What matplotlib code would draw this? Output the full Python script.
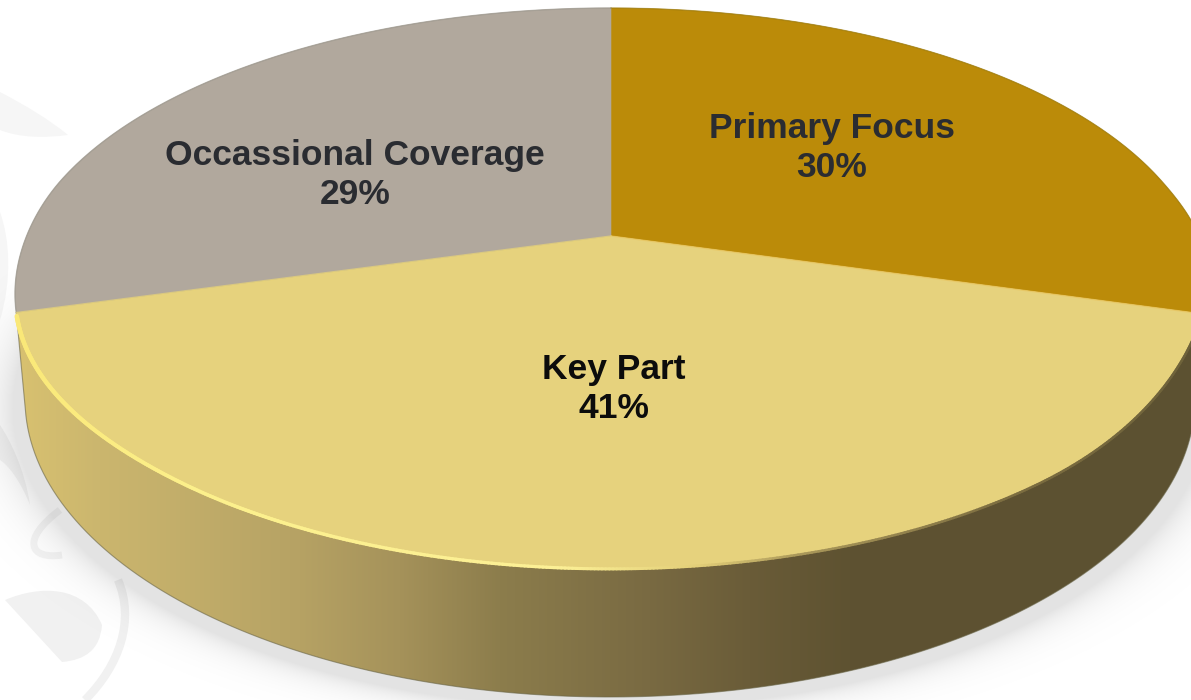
import numpy as np
import matplotlib
matplotlib.use("Agg")
import matplotlib.pyplot as plt
from matplotlib.patches import Polygon, PathPatch
from matplotlib.path import Path
from matplotlib.collections import LineCollection

plt.rcParams['font.family'] = ['Liberation Sans', 'DejaVu Sans']

# Share of coverage, clockwise from twelve o'clock
categories = ["Primary Focus", "Key Part", "Occassional Coverage"]
shares = [30, 41, 29]
slice_colors = ["#BB8B09", "#E6D27D", "#B1A89D"]
label_colors = ["#2A2C31", "#0C0C0C", "#2A2C31"]
label_xy = [(832, 148), (614, 389), (355, 175)]

W, H = 1191, 700
fig = plt.figure(figsize=(W / 100, H / 100), dpi=100)
ax = fig.add_axes([0, 0, 1, 1])

# Tilted disk: a unit circle seen in perspective, apex at (APEX_X, APEX_Y)
APEX_X, APEX_Y = 611.0, 236.0
K = 0.187
SCALE_Y = 228.0 * (1 + K)
SCALE_X = 596.0 * np.sqrt(1 - K ** 2)


def rim(theta):
    """Pixel position of the disk rim at a clockwise angle from the top."""
    u, v = np.sin(theta), np.cos(theta)
    d = 1 + K * v
    # Small warp near the side joins, where the disk is slightly skewed
    bump = np.clip(1 - ((v + 0.28) / 0.5) ** 2, 0, None) ** 2
    warp = np.where(u > 0, -11.0, 6.0) * bump
    return APEX_X + SCALE_X * u / d, APEX_Y - SCALE_Y * v / d + warp


# Underside outline of the pie body
BASE_X, BASE_Y, BASE_A, BASE_B = 610.0, 399.0, 585.0, 298.0


def base(t):
    return BASE_X + BASE_A * np.cos(t), BASE_Y + BASE_B * np.sin(t)


# Soft drop shadow beneath the body
yy, xx = np.mgrid[0:H, 0:W]
r = np.sqrt(((xx - 610) / 598.0) ** 2 + ((yy - 408) / 300.0) ** 2)
shadow = 28 * np.exp(-np.clip(r - 1, 0, None) / 0.04) * np.clip((yy - 230) / 90, 0, 1)

# Faint floral watermark along the left margin
MV, C4, CL = Path.MOVETO, Path.CURVE4, Path.CLOSEPOLY
ornaments = [
    [(0, 92), (25, 105), (50, 120), (68, 135), (45, 138), (20, 138), (0, 130), (0, 92)],
    [(5, 600), (40, 585), (85, 585), (102, 625), (100, 650), (85, 660), (62, 662), (5, 600)],
    [(0, 212), (10, 240), (12, 280), (0, 320), (0, 300), (0, 250), (0, 230), (0, 212)],
    [(0, 425), (10, 440), (25, 470), (30, 505), (20, 480), (8, 465), (0, 460), (0, 425)],
]
ornament_fill = ["#F6F6F6", "#F1F1F1", "#F6F6F6", "#F4F4F4"]
for pts, fill in zip(ornaments, ornament_fill):
    codes = [MV, C4, C4, C4, C4, C4, C4, CL]
    ax.add_patch(PathPatch(Path(pts, codes), fc=fill, ec="none", zorder=1))
curl = [(118, 580), (135, 620), (120, 665), (85, 700)]
ax.add_patch(PathPatch(Path(curl, [MV, C4, C4, C4]), fc="none", ec="#F1F1F1", lw=6, zorder=1))
curl2 = [(60, 510), (20, 540), (30, 560), (62, 555)]
ax.add_patch(PathPatch(Path(curl2, [MV, C4, C4, C4]), fc="none", ec="#F3F3F3", lw=5, zorder=1))

# Shadow layer tints the paper and the watermark alike
shadow_rgba = np.zeros((H, W, 4))
shadow_rgba[..., 3] = shadow / 255.0
ax.imshow(shadow_rgba, extent=(0, W, H, 0), aspect="auto", zorder=1.5,
          interpolation="bilinear")

# Side wall: shading runs from pale gold on the left to dark olive on the right
stops_x = [20, 100, 300, 400, 500, 650, 750, 850, 1191]
stops_rgb = np.array([
    [216, 193, 112], [203, 182, 110], [182, 162, 100], [165, 146, 90],
    [140, 125, 76], [121, 106, 66], [106, 92, 56], [94, 82, 49], [92, 81, 50],
], dtype=float)
xs = np.arange(W)
ramp = np.stack([np.interp(xs, stops_x, stops_rgb[:, i]) for i in range(3)], axis=1)
wall_img = ax.imshow(ramp[None, :, :].astype(np.uint8), extent=(0, W, H, 0),
                     aspect="auto", zorder=2, interpolation="bilinear")

# Angle boundaries of the slices come straight from the shares
fractions = np.array(shares, dtype=float) / sum(shares)
edges = np.concatenate([[0], np.cumsum(fractions)]) * 2 * np.pi

# Wall runs along the key slice's rim and round the underside
lx, ly = rim(edges[2])
rx, ry = rim(edges[1])
t = np.linspace(np.radians(-5), np.radians(178), 300)
bx, by = base(t)
wall_pts = np.column_stack([
    np.concatenate([[rx], bx, [lx]]),
    np.concatenate([[ry], by, [ly]]),
])
wall_clip = Polygon(wall_pts, closed=True, transform=ax.transData, fc="none", ec="none")
ax.add_patch(wall_clip)
wall_img.set_clip_path(wall_clip)
ax.plot(np.r_[bx, lx], np.r_[by, ly], color="#6A6648", lw=0.8, alpha=0.6, zorder=3)

# Top face slices
for i, color in enumerate(slice_colors):
    th = np.linspace(edges[i], edges[i + 1], 240)
    px, py = rim(th)
    pts = np.column_stack([np.r_[APEX_X, px], np.r_[APEX_Y, py]])
    ax.add_patch(Polygon(pts, closed=True, fc=color, ec=color, lw=0.4, zorder=4))

# Thin grey edge on the far rim
th = np.linspace(edges[2], 2 * np.pi, 200)
ax.plot(*rim(th), color="#98948A", lw=1.0, alpha=0.6, zorder=5)
th = np.linspace(0, edges[1], 200)
ax.plot(*rim(th), color="#8F7410", lw=0.9, alpha=0.5, zorder=5)

# Light catching the separator lines
for edge, col in ((edges[1], "#EBC55C"), (edges[2], "#EED870")):
    ex, ey = rim(np.array([edge]))
    ax.plot([APEX_X, ex[0]], [APEX_Y, ey[0]], color=col, lw=1.0, alpha=0.6, zorder=5)

# Bevel on the front rim: bright to the left, falling into shade to the right
th = np.linspace(edges[2] - 0.012, edges[1], 500)
hx, hy = rim(th)
seg_pts = np.column_stack([hx, hy]).reshape(-1, 1, 2)
segs = np.concatenate([seg_pts[:-1], seg_pts[1:]], axis=1)
mid = 0.5 * (hx[:-1] + hx[1:])
bevel_x = [20, 200, 560, 700, 800, 1000, 1191]
bevel_c = np.array([
    [250, 232, 120], [252, 240, 140], [252, 240, 150], [226, 206, 120],
    [170, 152, 90], [125, 110, 65], [110, 98, 58],
], dtype=float) / 255
bevel_w = [3.2, 2.6, 2.3, 2.0, 1.8, 1.8, 1.8]
colors = np.stack([np.interp(mid, bevel_x, bevel_c[:, i]) for i in range(3)], axis=1)
widths = np.interp(mid, bevel_x, bevel_w)
ax.add_collection(LineCollection(segs, colors=colors, linewidths=widths,
                                 capstyle="round", zorder=5))

# Category and share labels
for name, share, (x, y), color in zip(categories, shares, label_xy, label_colors):
    ax.text(x, y, f"{name}\n{share}%", ha="center", va="center", fontsize=25.5,
            fontweight="bold", color=color, linespacing=1.2, zorder=6)

ax.set_xlim(0, W)
ax.set_ylim(H, 0)
ax.axis("off")
fig.savefig("out.png", dpi=100, facecolor="white")
